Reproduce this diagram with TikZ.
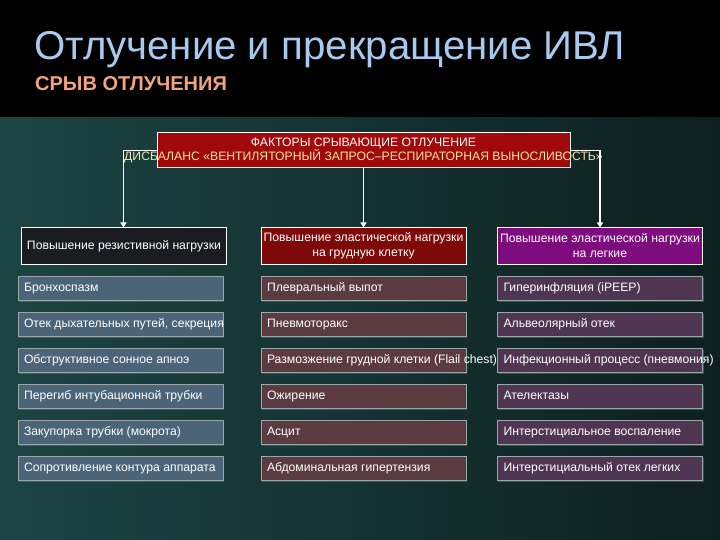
\documentclass[tikz,border=0pt]{standalone}
\usepackage{fontspec}
\setmainfont{Liberation Sans}
\usetikzlibrary{arrows.meta,shadows}
\definecolor{bgteal}{HTML}{1B4543}
\definecolor{bgdark}{HTML}{0E1F20}
\definecolor{ttlblue}{HTML}{A9C9EE}
\definecolor{subor}{HTML}{F2A57A}
\definecolor{topred}{HTML}{A00A0A}
\definecolor{topyel}{HTML}{F2E6A6}
\definecolor{hdleft}{HTML}{1A1C21}
\definecolor{hdmid}{HTML}{7D0909}
\definecolor{hdright}{HTML}{7E0C7E}
\definecolor{itleft}{HTML}{4B6478}
\definecolor{itmid}{HTML}{5B3B3F}
\definecolor{itright}{HTML}{4F3551}
\definecolor{itborder}{HTML}{9AA8AC}
\tikzset{
  hdbox/.style={draw=white, line width=1pt, minimum width=205pt, minimum height=36pt, inner sep=0pt, text=white, font=\fontsize{12.2}{15}\selectfont, align=center},
  itembox/.style={draw=itborder, line width=1pt, minimum width=205pt, minimum height=24pt, inner xsep=6pt, inner ysep=0pt, text=white, font=\fontsize{12.2}{15}\selectfont,
    text height=9pt, text depth=3pt,
    drop shadow={shadow xshift=1pt, shadow yshift=-2pt, opacity=0.45}},
  lbox/.style={itembox, fill=itleft},
  mbox/.style={itembox, fill=itmid},
  rbox/.style={itembox, fill=itright},
  conn/.style={draw=white, line width=1.5pt, -{Triangle[width=6pt,length=5pt]}},
}
\newcommand{\itx}[1]{\makebox[193pt][l]{#1}}
\begin{document}
\begin{tikzpicture}[x=1pt,y=-1pt]
\useasboundingbox (0,0) rectangle (720,540);
\fill[black] (0,0) rectangle (720,118);
\shade[left color=bgteal, right color=bgdark] (0,118) rectangle (720,540);

\node[anchor=west, inner sep=0pt, text=ttlblue, font=\fontsize{40.2}{46}\selectfont] (title) at (34,50) {Отлучение и прекращение ИВЛ};
\node[anchor=west, inner sep=0pt, text=subor, font=\fontsize{20}{22}\selectfont\bfseries] (subtitle) at (35,84) {СРЫВ ОТЛУЧЕНИЯ};

\node[draw=white, line width=1pt, fill=topred, minimum width=413pt, minimum height=35pt, inner sep=0pt] (top) at (363.5,150.5) {};
\node[inner sep=0pt, align=center, font=\fontsize{12.2}{14}\selectfont] (toptext) at (363.5,150.5)
  {\textcolor{white}{ФАКТОРЫ СРЫВАЮЩИЕ ОТЛУЧЕНИЕ}\\\textcolor{topyel}{ДИСБАЛАНС «ВЕНТИЛЯТОРНЫЙ ЗАПРОС–РЕСПИРАТОРНАЯ ВЫНОСЛИВОСТЬ»}};

\node[hdbox, fill=hdleft] (h1) at (123.5,246) {\makebox[193pt][l]{Повышение резистивной нагрузки}};
\node[hdbox, fill=hdmid] (h2) at (363.5,246) {Повышение эластической нагрузки\\на грудную клетку};
\node[hdbox, fill=hdright] (h3) at (600,246) {Повышение эластической нагрузки\\на легкие};

\draw[conn] (top.west) -| (h1.north);
\draw[conn] (top.south) -- (h2.north);
\draw[conn] (top.east) -| (h3.north);

\node[lbox] (l1) at (120.5,288) {\itx{Бронхоспазм}};
\node[lbox] (l2) at (120.5,324) {\itx{Отек дыхательных путей, секреция}};
\node[lbox] (l3) at (120.5,360) {\itx{Обструктивное сонное апноэ}};
\node[lbox] (l4) at (120.5,396) {\itx{Перегиб интубационной трубки}};
\node[lbox] (l5) at (120.5,432) {\itx{Закупорка трубки (мокрота)}};
\node[lbox] (l6) at (120.5,468) {\itx{Сопротивление контура аппарата}};

\node[mbox] (m1) at (363.5,288) {\itx{Плевральный выпот}};
\node[mbox] (m2) at (363.5,324) {\itx{Пневмоторакс}};
\node[mbox] (m3) at (363.5,360) {\itx{Размозжение грудной клетки (Flail chest)}};
\node[mbox] (m4) at (363.5,396) {\itx{Ожирение}};
\node[mbox] (m5) at (363.5,432) {\itx{Асцит}};
\node[mbox] (m6) at (363.5,468) {\itx{Абдоминальная гипертензия}};

\node[rbox] (r1) at (600,288) {\itx{Гиперинфляция (iPEEP)}};
\node[rbox] (r2) at (600,324) {\itx{Альвеолярный отек}};
\node[rbox] (r3) at (600,360) {\itx{Инфекционный процесс (пневмония)}};
\node[rbox] (r4) at (600,396) {\itx{Ателектазы}};
\node[rbox] (r5) at (600,432) {\itx{Интерстициальное воспаление}};
\node[rbox] (r6) at (600,468) {\itx{Интерстициальный отек  легких}};
\end{tikzpicture}
\end{document}
